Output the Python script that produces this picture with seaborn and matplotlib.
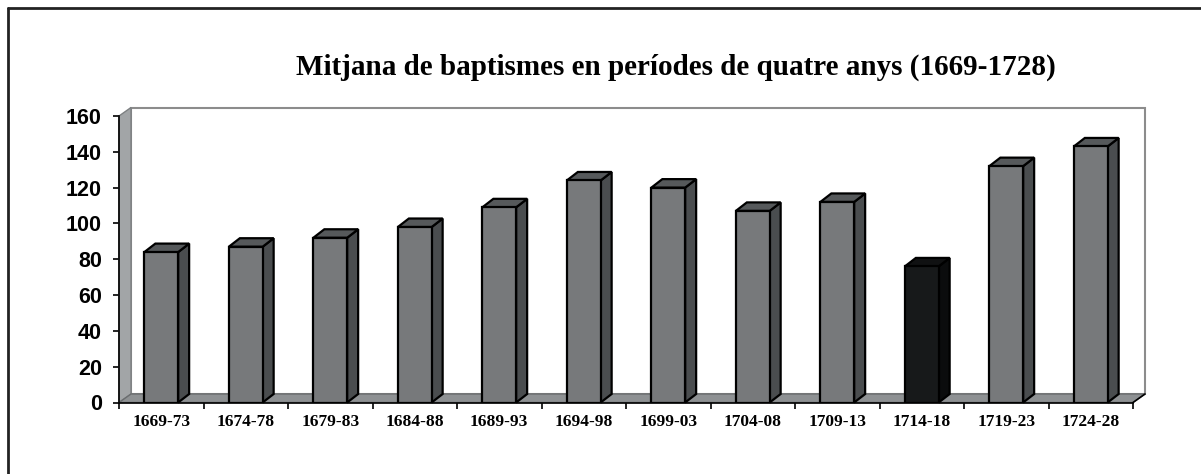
import matplotlib
matplotlib.use("Agg")
import matplotlib.pyplot as plt
import seaborn as sns
import pandas as pd
from matplotlib.patches import Polygon, Rectangle
from matplotlib.lines import Line2D

# Chart data
periods = ["1669-73", "1674-78", "1679-83", "1684-88", "1689-93", "1694-98",
           "1699-03", "1704-08", "1709-13", "1714-18", "1719-23", "1724-28"]
baptisms = [84, 87, 92, 98, 109, 124, 120, 107, 112, 76, 132, 143]
highlight = "1714-18"
y_ticks = [0, 20, 40, 60, 80, 100, 120, 140, 160]
title = "Mitjana de baptismes en períodes de quatre anys (1669-1728)"

df = pd.DataFrame({"period": periods, "baptisms": baptisms})

# face colours for the fake 3D columns
front_grey, side_grey, top_grey = "#77797b", "#4a4d4f", "#56595b"
front_dark, side_dark, top_dark = "#17191a", "#0b0c0d", "#101112"
palette = {p: (front_dark if p == highlight else front_grey) for p in periods}

sns.set_style("white")
plt.rcParams["text.color"] = "black"
plt.rcParams["xtick.color"] = "black"
plt.rcParams["ytick.color"] = "black"

W, H = 1201, 474
fig = plt.figure(figsize=(W / 100, H / 100), dpi=100)
ax_left, ax_right, ax_bottom, ax_top = 119, 1133, 402.5, 116
ax = fig.add_axes([ax_left / W, (H - ax_bottom) / H,
                   (ax_right - ax_left) / W, (ax_bottom - ax_top) / H])

sns.barplot(data=df, x="period", y="baptisms", hue="period", palette=palette,
            width=0.4, saturation=1, edgecolor="black", linewidth=1.6,
            legend=False, ax=ax, zorder=3)
fronts = list(ax.patches)

ax.set_xlim(-0.5, len(periods) - 0.5)
ax.set_ylim(0, 160)

# depth of the 3D effect, in pixels, converted to data units
px_x = len(periods) / (ax_right - ax_left)
px_y = 160 / (ax_bottom - ax_top)
wall_dx, wall_dy = 12 * px_x, 8.5 * px_y
bar_dx, bar_dy = 11 * px_x, 8.5 * px_y
x0, x1 = -0.5, len(periods) - 0.5

# back wall, side wall and floor
ax.add_patch(Rectangle((x0 + wall_dx, wall_dy), x1 - x0, 160,
                       facecolor="white", edgecolor="#8c8c8c", linewidth=1.5,
                       zorder=0.5, clip_on=False))
ax.add_patch(Polygon([(x0, 0), (x0, 160), (x0 + wall_dx, 160 + wall_dy),
                      (x0 + wall_dx, wall_dy)],
                     facecolor="#a2a5a7", edgecolor="#7d8082", linewidth=1,
                     zorder=0.6, clip_on=False))
ax.add_patch(Polygon([(x0, 0), (x1, 0), (x1 + wall_dx, wall_dy),
                      (x0 + wall_dx, wall_dy)],
                     facecolor="#8e9193", edgecolor="#6a6d6f", linewidth=1,
                     zorder=0.7, clip_on=False))
ax.plot([x1, x1 + wall_dx], [0, wall_dy], color="black", linewidth=1.2,
        zorder=0.8, clip_on=False)

# side and top faces of each column
for patch, period in zip(fronts, periods):
    bx, bw, bh = patch.get_x(), patch.get_width(), patch.get_height()
    dark = period == highlight
    side = Polygon([(bx + bw, 0), (bx + bw + bar_dx, bar_dy),
                    (bx + bw + bar_dx, bh + bar_dy), (bx + bw, bh)],
                   facecolor=side_dark if dark else side_grey,
                   edgecolor="black", linewidth=1.6, zorder=2, clip_on=False)
    top = Polygon([(bx, bh), (bx + bar_dx, bh + bar_dy),
                   (bx + bw + bar_dx, bh + bar_dy), (bx + bw, bh)],
                  facecolor=top_dark if dark else top_grey,
                  edgecolor="black", linewidth=1.6, zorder=2, clip_on=False)
    ax.add_patch(side)
    ax.add_patch(top)

# axes styling
for s in ["top", "right"]:
    ax.spines[s].set_visible(False)
for s in ["left", "bottom"]:
    ax.spines[s].set_color("black")
    ax.spines[s].set_linewidth(1.2)
    ax.spines[s].set_zorder(4)

ax.set_yticks(y_ticks)
ax.set_yticklabels([str(t) for t in y_ticks], fontfamily="Liberation Sans",
                   fontweight="bold", fontsize=15.5, color="black")
ax.tick_params(axis="y", direction="out", length=4.3, width=1.2,
               color="black", pad=8, left=True)
ax.set_xticks(range(len(periods)))
ax.set_xticklabels(periods, fontfamily="Liberation Serif", fontweight="bold",
                   fontsize=12.5, color="black")
ax.set_xticks([i - 0.5 for i in range(len(periods) + 1)], minor=True)
ax.tick_params(axis="x", which="major", length=0, pad=8)
ax.tick_params(axis="x", which="minor", direction="out", length=4,
               width=1.2, color="black", bottom=True)
ax.set_xlabel("")
ax.set_ylabel("")

fig.text(676 / W, 1 - 75 / H, title, ha="center", va="baseline",
         fontfamily="Liberation Serif", fontweight="bold", fontsize=21,
         color="black")

# outer frame of the picture (only top and left sides are visible)
fig.add_artist(Line2D([7.5 / W, 7.5 / W], [0, 1 - 7.5 / H], color="#222222",
                      linewidth=2, transform=fig.transFigure))
fig.add_artist(Line2D([7.5 / W, 1], [1 - 7.5 / H, 1 - 7.5 / H], color="#222222",
                      linewidth=2, transform=fig.transFigure))

fig.savefig("out.png", dpi=100)
